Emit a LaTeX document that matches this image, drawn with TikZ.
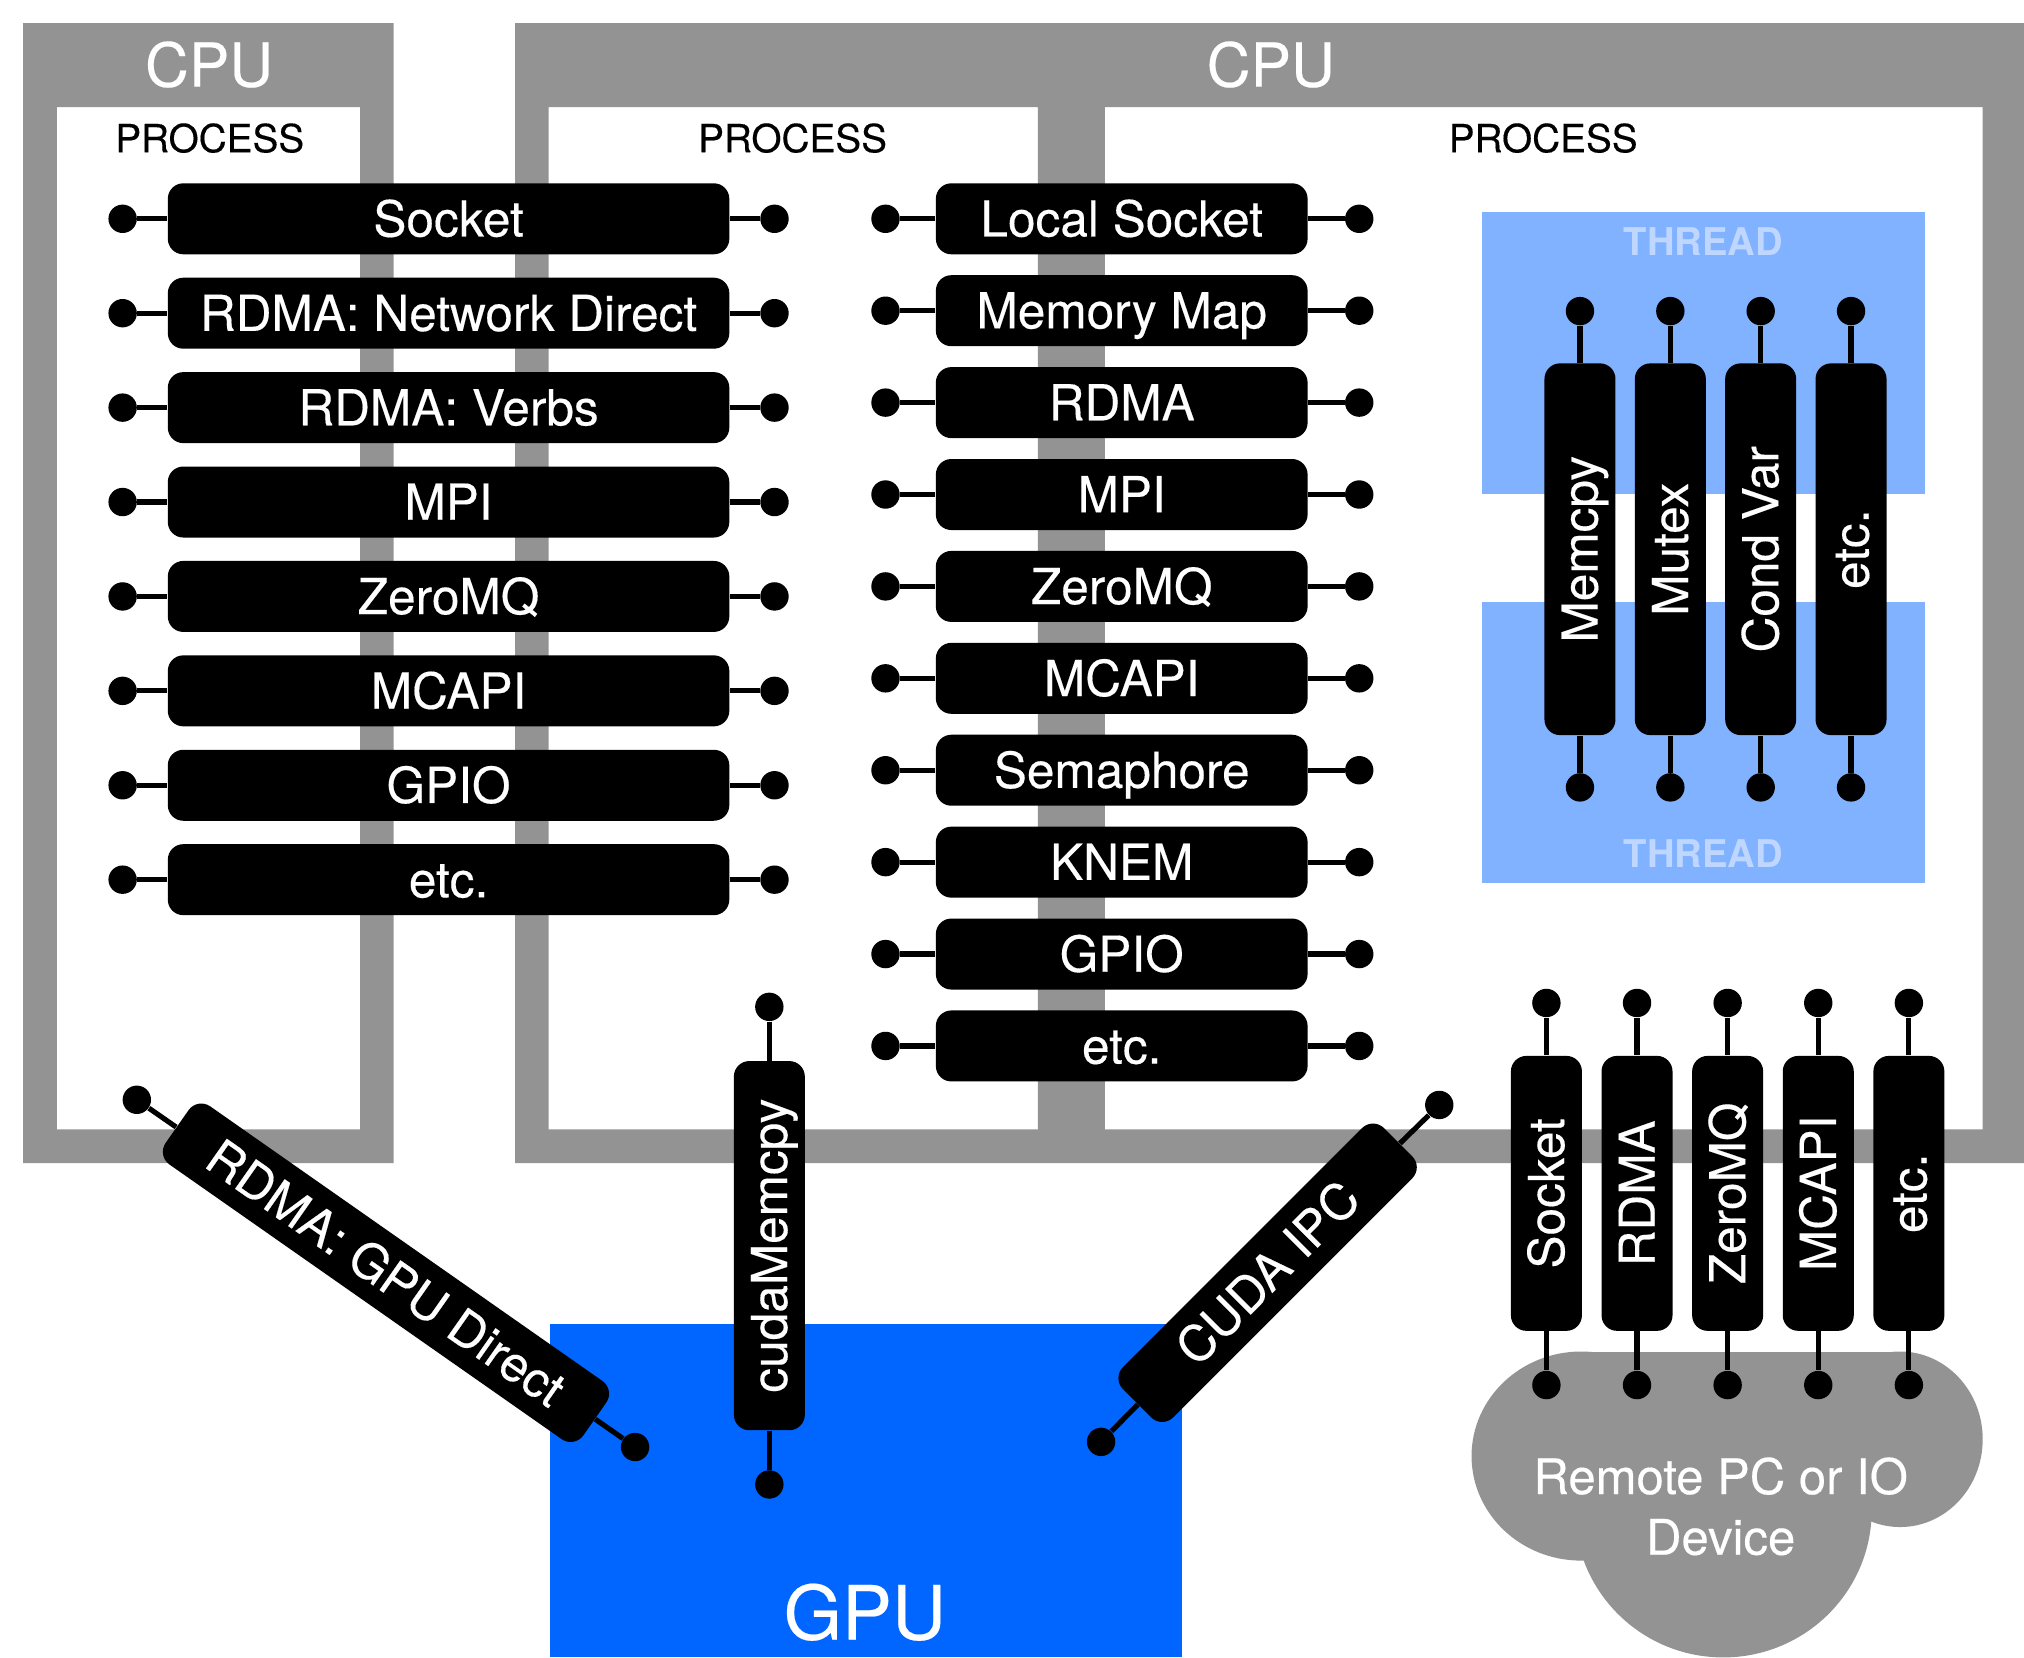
\documentclass[tikz,border=0pt]{standalone}
\usepackage{fontspec}
\setmainfont{TeX Gyre Heros}
\newfontfamily\heavyfont[FakeBold=0.3]{TeX Gyre Heros}
\definecolor{framegray}{HTML}{939393}
\definecolor{gpublue}{HTML}{0066FF}
\definecolor{threadblue}{HTML}{80B2FF}
\definecolor{threadtext}{HTML}{BFD6FF}
\begin{document}
\begin{tikzpicture}[x=0.5pt,y=-0.5pt,
  pill/.style={fill=black, rounded corners=6pt, text=white, inner sep=0pt,
    font=\heavyfont\fontsize{19.2}{22}\selectfont, text height=13.7pt, text depth=0pt,
    minimum height=27.5pt},
  dot/.style={circle, fill=black, inner sep=0pt, minimum size=11pt},
  stub/.style={line width=2pt},
  cpulabel/.style={text=white, inner sep=0pt, font=\heavyfont\fontsize{23.5}{26}\selectfont},
  proclabel/.style={text=black, inner sep=0pt, font=\heavyfont\fontsize{15}{18}\selectfont},
  threadlabel/.style={text=threadtext, inner sep=0pt, font=\bfseries\fontsize{14.8}{18}\selectfont},
  biglabel/.style={text=white, inner sep=0pt, font=\heavyfont\fontsize{29}{32}\selectfont},
  cloudlabel/.style={text=white, inner sep=0pt, align=center, font=\heavyfont\fontsize{19}{23.5}\selectfont},
]
\useasboundingbox (0,0) rectangle (1568,1284);
% CPU frames
\fill[framegray, even odd rule] (18,18) rectangle (305,901) (44,83) rectangle (279,875);
\fill[framegray, even odd rule] (399,18) rectangle (1568,901)
  (425,83) rectangle (804,875) (856,83) rectangle (1536,875);
% GPU
\fill[gpublue] (426,1026) rectangle (916,1284);
% cloud
\fill[framegray] (1225,1128) ellipse [x radius=85, y radius=81];
\fill[framegray] (1472,1115) ellipse [x radius=64, y radius=68];
\fill[framegray] (1335,1170) ellipse [x radius=115, y radius=114];
\fill[framegray] (1225,1047) rectangle (1472,1170);
% threads
\fill[threadblue] (1148,164) rectangle (1491,383);
\fill[threadblue] (1148,466) rectangle (1491,684);
% labels
\node[cpulabel] (cpuA) at (162,50) {CPU};
\node[cpulabel] (cpuB) at (984.5,50) {CPU};
\node[proclabel] (procA) at (162.5,107) {PROCESS};
\node[proclabel] (procB) at (614,107) {PROCESS};
\node[proclabel] (procC) at (1195.5,107) {PROCESS};
\node[threadlabel] (thrA) at (1319.5,187) {THREAD};
\node[threadlabel] (thrB) at (1319.5,661) {THREAD};
\node[biglabel] (gpu) at (670,1249) {GPU};
\node[cloudlabel] (remote) at (1333,1167) {Remote PC or IO\\Device};
% left process column
\foreach \t [count=\i from 0] in {Socket,RDMA: Network Direct,RDMA: Verbs,MPI,ZeroMQ,MCAPI,GPIO,etc.}{
  \pgfmathsetmacro\yy{169.5+73.14*\i}
  \node[pill, minimum width=217.5pt] (L\i) at (347.5,\yy) {\t};
  \node[dot] (La\i) at (95,\yy) {};
  \node[dot] (Lb\i) at (600,\yy) {};
  \draw[stub] (La\i) -- (L\i) -- (Lb\i);
}
% middle column
\foreach \t [count=\i from 0] in {Local Socket,Memory Map,RDMA,MPI,ZeroMQ,MCAPI,Semaphore,KNEM,GPIO,etc.}{
  \pgfmathsetmacro\yy{169.5+71.2*\i}
  \node[pill, minimum width=144pt] (M\i) at (869,\yy) {\t};
  \node[dot] (Ma\i) at (686,\yy) {};
  \node[dot] (Mb\i) at (1053,\yy) {};
  \draw[stub] (Ma\i) -- (M\i) -- (Mb\i);
}
% thread pills
\foreach \t [count=\i from 0] in {Memcpy,Mutex,Cond Var,etc.}{
  \pgfmathsetmacro\xx{1224+70*\i}
  \node[pill, rotate=90, minimum width=144pt] (T\i) at (\xx,425.5) {\t};
  \node[dot] (Ta\i) at (\xx,241) {};
  \node[dot] (Tb\i) at (\xx,610) {};
  \draw[stub] (Ta\i) -- (T\i) -- (Tb\i);
}
% remote pills
\foreach \t [count=\i from 0] in {Socket,RDMA,ZeroMQ,MCAPI,etc.}{
  \pgfmathsetmacro\xx{1198+70.2*\i}
  \node[pill, rotate=90, minimum width=106.5pt] (R\i) at (\xx,924.5) {\t};
  \node[dot] (Ra\i) at (\xx,777) {};
  \node[dot] (Rb\i) at (\xx,1073) {};
  \draw[stub] (Ra\i) -- (R\i) -- (Rb\i);
}
% GPU links
\node[pill, rotate=-35, minimum width=197.5pt] (gd) at (299,986) {RDMA: GPU Direct};
\node[dot] (gda) at (106,852) {};
\node[dot] (gdb) at (492,1121) {};
\draw[stub] (gda) -- (gd) -- (gdb);
\node[pill, rotate=90, minimum width=143pt] (cm) at (596,965) {cudaMemcpy};
\node[dot] (cma) at (596,780) {};
\node[dot] (cmb) at (596,1150) {};
\draw[stub] (cma) -- (cm) -- (cmb);
\node[pill, rotate=45, minimum width=143pt] (ci) at (982,986) {CUDA IPC};
\node[dot] (cia) at (1115,856) {};
\node[dot] (cib) at (853,1117) {};
\draw[stub] (cia) -- (ci) -- (cib);
\end{tikzpicture}
\end{document}
